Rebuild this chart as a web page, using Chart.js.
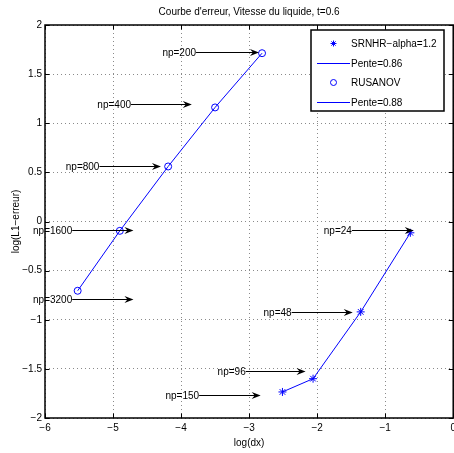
<!DOCTYPE html>
<html><head><meta charset="utf-8">
<script src="https://cdn.jsdelivr.net/npm/chart.js@4"></script>
<style>html,body{margin:0;padding:0;overflow:hidden;background:#fff;width:454px;height:453px}canvas{display:block}</style>
</head><body>
<canvas id="c" width="460" height="453"></canvas>
<script>
const FONT = '"Liberation Sans", Arial, sans-serif';
const titleText = "Courbe d'erreur, Vitesse du liquide, t=0.6";
const xTitle = "log(dx)";
const yTitle = "log(L1\u2212erreur)";

// SRNHR-alpha=1.2 (stars) and fitted line Pente=0.86
const srnhrX = [-0.63, -1.36, -2.06, -2.51];
const srnhrY = [-0.115, -0.92, -1.60, -1.735];
// RUSANOV (circles) and fitted line Pente=0.88
const rusanovX = [-2.81, -3.50, -4.19, -4.90, -5.52];
const rusanovY = [1.713, 1.161, 0.56, -0.095, -0.705];

const seriesLabels = ["SRNHR\u2212alpha=1.2", "Pente=0.86", "RUSANOV", "Pente=0.88"];

// annotations (text + arrow)
const annLabels = ["np=200", "np=400", "np=800", "np=1600", "np=3200", "np=24", "np=48", "np=96", "np=150"];
const annStartX = [-3.78, -4.736, -5.20, -5.60, -5.60, -1.49, -2.375, -3.05, -3.735];
const annEndX   = [-2.855, -3.842, -4.296, -4.70, -4.70, -0.58, -1.477, -2.17, -2.83];
const annY      = [1.726, 1.192, 0.567, -0.089, -0.792, -0.089, -0.921, -1.519, -1.770];

const xTickValues = [-6, -5, -4, -3, -2, -1, 0];
const xTickLabels = ["\u22126", "\u22125", "\u22124", "\u22123", "\u22122", "\u22121", "0"];
const yTickValues = [-2, -1.5, -1, -0.5, 0, 0.5, 1, 1.5, 2];
const yTickLabels = ["\u22122", "\u22121.5", "\u22121", "\u22120.5", "0", "0.5", "1", "1.5", "2"];

const BLUE = 'rgb(0,0,255)';
const pts = (xs, ys) => xs.map((v, i) => ({x: v, y: ys[i]}));

const overlay = {
  id: 'overlay',
  afterDraw(chart) {
    const {ctx, chartArea: a, scales: {x, y}} = chart;
    ctx.save();
    ctx.setLineDash([]);
    // annotations
    ctx.strokeStyle = '#000'; ctx.fillStyle = '#000'; ctx.lineWidth = 1;
    ctx.font = '10px ' + FONT;
    ctx.textAlign = 'right'; ctx.textBaseline = 'middle';
    for (let i = 0; i < annLabels.length; i++) {
      const x0 = x.getPixelForValue(annStartX[i]);
      const x1 = x.getPixelForValue(annEndX[i]);
      const py = Math.round(y.getPixelForValue(annY[i])) + 0.5;
      ctx.beginPath(); ctx.moveTo(x0, py); ctx.lineTo(x1 - 5, py); ctx.stroke();
      ctx.beginPath(); ctx.moveTo(x1, py); ctx.lineTo(x1 - 9, py - 3.5); ctx.lineTo(x1 - 6, py); ctx.lineTo(x1 - 9, py + 3.5); ctx.closePath(); ctx.fill();
      ctx.fillText(annLabels[i], x0, py + 0.5);
    }
    // axes box
    ctx.lineWidth = 1.5; ctx.strokeStyle = '#000';
    ctx.strokeRect(a.left, a.top, a.right - a.left, a.bottom - a.top);
    // inward ticks
    ctx.lineWidth = 1;
    ctx.beginPath();
    xTickValues.forEach(v => {
      const px = Math.round(x.getPixelForValue(v)) + 0.5;
      ctx.moveTo(px, a.bottom); ctx.lineTo(px, a.bottom - 4.5);
      ctx.moveTo(px, a.top); ctx.lineTo(px, a.top + 4.5);
    });
    yTickValues.forEach(v => {
      const py = Math.round(y.getPixelForValue(v)) + 0.5;
      ctx.moveTo(a.left, py); ctx.lineTo(a.left + 4.5, py);
      ctx.moveTo(a.right, py); ctx.lineTo(a.right - 4.5, py);
    });
    ctx.stroke();
    // legend
    const L = 311, T = 30, R = 444, B = 111;
    ctx.fillStyle = '#fff';
    ctx.fillRect(L, T, R - L, B - T);
    ctx.lineWidth = 1.5; ctx.strokeStyle = '#000';
    ctx.strokeRect(L, T, R - L, B - T);
    const rows = [43, 63, 82, 102];
    // legend text
    ctx.font = '10px ' + FONT; ctx.textAlign = 'left'; ctx.textBaseline = 'middle';
    ctx.fillStyle = '#000';
    seriesLabels.forEach((lab, i) => ctx.fillText(lab, 351, rows[i] + 1));
    // star marker
    ctx.lineWidth = 1;
    ctx.strokeStyle = BLUE;
    ctx.beginPath();
    const sr = 3;
    for (let k = 0; k < 4; k++) {
      const ang = k * Math.PI / 4;
      ctx.moveTo(333.5 - sr * Math.cos(ang), rows[0] + 0.5 - sr * Math.sin(ang));
      ctx.lineTo(333.5 + sr * Math.cos(ang), rows[0] + 0.5 + sr * Math.sin(ang));
    }
    ctx.stroke();
    ctx.strokeStyle = BLUE;
    ctx.beginPath(); ctx.arc(333.5, rows[2] + 0.5, 3, 0, Math.PI * 2); ctx.stroke();
    // legend lines
    ctx.fillStyle = BLUE;
    ctx.fillRect(317, rows[1], 33, 1);
    ctx.fillStyle = BLUE;
    ctx.fillRect(317, rows[3], 33, 1);
    ctx.restore();
  }
};

new Chart(document.getElementById('c'), {
  type: 'scatter',
  data: {
    datasets: [
      {label: seriesLabels[0], data: pts(srnhrX, srnhrY), showLine: false, pointStyle: 'star', pointRadius: 4, borderColor: BLUE, backgroundColor: BLUE, borderWidth: 1},
      {label: seriesLabels[1], data: pts(srnhrX, srnhrY), showLine: true, pointRadius: 0, borderColor: BLUE, borderWidth: 1, fill: false},
      {label: seriesLabels[2], data: pts(rusanovX, rusanovY), showLine: false, pointStyle: 'circle', pointRadius: 3.5, borderColor: BLUE, backgroundColor: 'rgba(0,0,0,0)', borderWidth: 1},
      {label: seriesLabels[3], data: pts(rusanovX, rusanovY), showLine: true, pointRadius: 0, borderColor: BLUE, borderWidth: 1, fill: false}
    ]
  },
  options: {
    responsive: false,
    animation: false,
    events: [],
    layout: {padding: {left: 0, right: 5, top: 0, bottom: 0}},
    plugins: {
      legend: {display: false},
      tooltip: {enabled: false},
      title: {display: true, text: titleText, fullSize: false, color: '#000', font: {family: FONT, size: 10, weight: 'normal'}, padding: {top: 6, bottom: 7}}
    },
    scales: {
      x: {
        type: 'linear', min: -6, max: 0,
        afterFit: s => { s.height = 35; },
        afterBuildTicks: s => { s.ticks = xTickValues.map(v => ({value: v})); },
        ticks: {color: '#000', font: {family: FONT, size: 10}, padding: 4, maxRotation: 0, autoSkip: false,
          callback: (v, i) => xTickLabels[i]},
        grid: {color: '#8a8a8a', lineWidth: 1, drawTicks: false},
        border: {display: false, dash: [1, 3]},
        title: {display: true, text: xTitle, color: '#000', font: {family: FONT, size: 10}, padding: {top: 0, bottom: 4}}
      },
      y: {
        type: 'linear', min: -2, max: 2,
        afterFit: s => { s.width = 45; },
        afterBuildTicks: s => { s.ticks = yTickValues.map(v => ({value: v})); },
        ticks: {color: '#000', font: {family: FONT, size: 10}, padding: 3, autoSkip: false,
          callback: (v, i) => yTickLabels[i]},
        grid: {color: '#8a8a8a', lineWidth: 1, drawTicks: false},
        border: {display: false, dash: [1, 3]},
        title: {display: true, text: yTitle, color: '#000', font: {family: FONT, size: 10}, padding: {top: 10, bottom: 0}}
      }
    }
  },
  plugins: [overlay]
});
</script>
</body></html>
